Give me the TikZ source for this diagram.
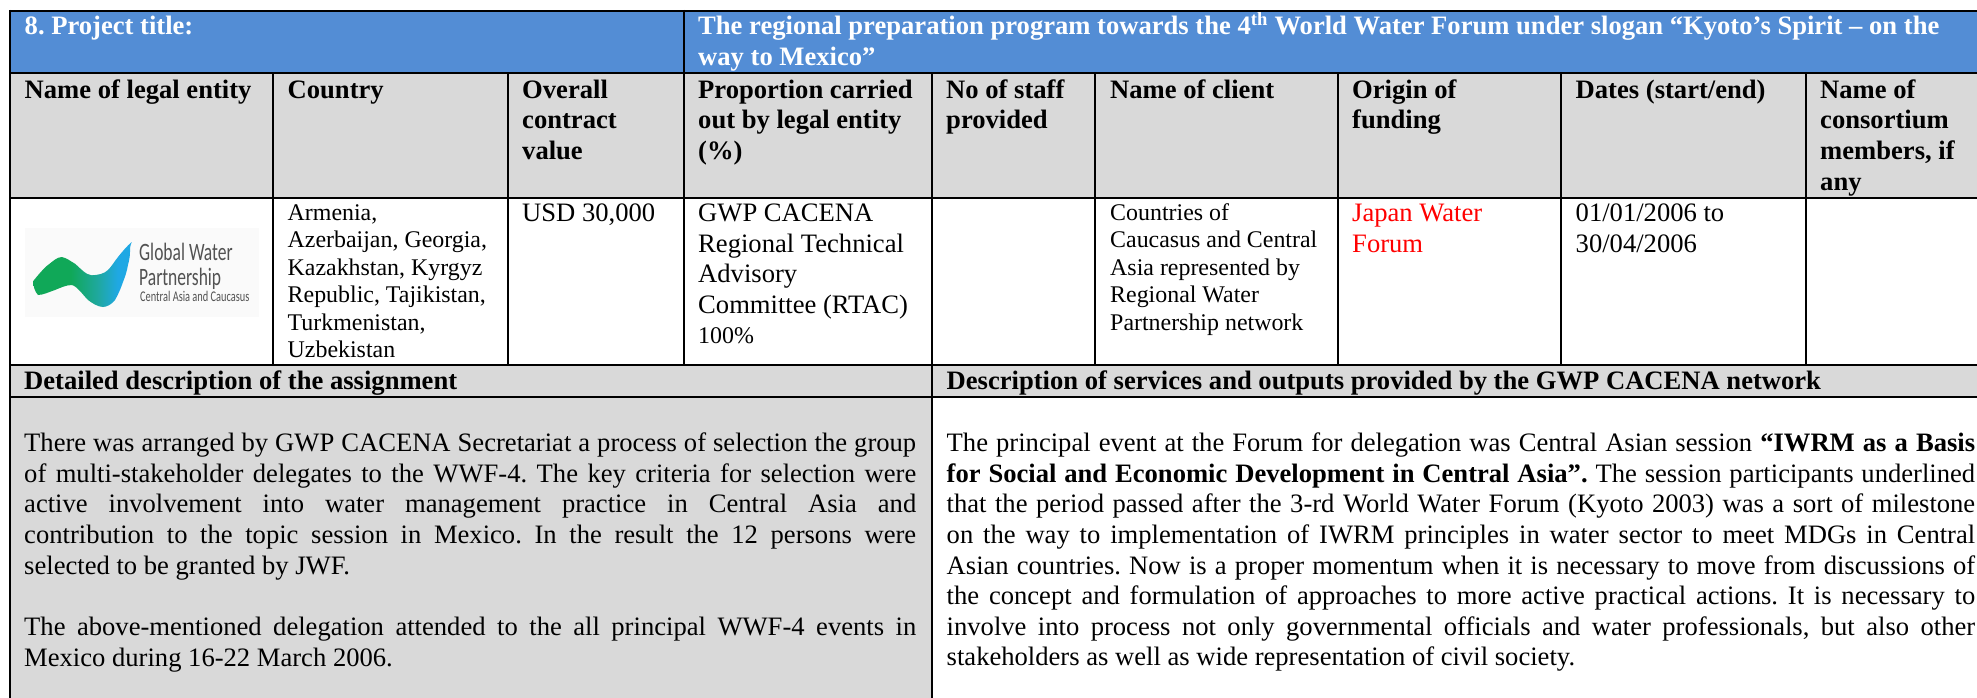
\documentclass[tikz,border=0pt]{standalone}
\usepackage{fontspec}
\setmainfont{Liberation Serif}
\newfontfamily\logofont[FakeStretch=0.7]{Carlito}
\usetikzlibrary{calc}
\definecolor{hdrblue}{HTML}{538DD5}
\definecolor{cellgrey}{HTML}{D9D9D9}
\definecolor{logogreen}{HTML}{10A858}
\definecolor{logoteal}{HTML}{1FA8A0}
\definecolor{logoblue}{HTML}{1FA8E4}
\pgfdeclarehorizontalshading{logoswoosh}{100bp}{
  color(0bp)=(logogreen); color(25bp)=(logogreen); color(44bp)=(logogreen);
  color(58bp)=(logoteal); color(68bp)=(logoblue); color(100bp)=(logoblue)}
\newcommand{\bigf}{\frenchspacing\fontsize{26.6}{30.6}\selectfont}
\newcommand{\smf}{\frenchspacing\fontsize{23.9}{27.5}\selectfont}
\newcommand{\mlines}[1]{\begin{tabular}[t]{@{}l@{}}#1\end{tabular}}
\newcommand{\jpara}[2]{\parbox[t]{#1}{\frenchspacing #2}}
\tikzset{
  txt/.style={inner sep=0pt,anchor=base west},
  big/.style={txt,font=\bigf},
  bigb/.style={txt,font=\bigf\bfseries},
  sml/.style={txt,font=\smf},
  grid/.style={line width=2pt,black},
  logot/.style={inner sep=0pt,anchor=base west,text=black!68}
}
\begin{document}
\begin{tikzpicture}[x=1pt,y=-1pt]
\useasboundingbox (0,0) rectangle (1977,698);
% fills
\fill[hdrblue] (10,11) rectangle (1977,73.3);
\fill[cellgrey] (10,73.3) rectangle (1977,197.7);
\fill[cellgrey] (10,365) rectangle (1977,396.7);
\fill[cellgrey] (10,396.7) rectangle (932,698);
% logo
\fill[black!2] (24.5,228) rectangle (259,317);
\shade[shading=logoswoosh]
 (33.3,281) .. controls (38,275) and (45,267) .. (48,265)
 .. controls (52,262) and (57,257) .. (61.7,257)
 .. controls (67,258) and (70,261) .. (75,263.7)
 .. controls (80,268) and (86,275) .. (91.7,275.3)
 .. controls (98,275) and (104,274) .. (108,270)
 .. controls (112,266) and (114,262) .. (118,257)
 .. controls (122,252) and (127,246) .. (131.7,242)
 .. controls (130,246) and (130,249) .. (130,252)
 .. controls (130,257) and (129,261) .. (128,265)
 .. controls (127,271) and (125,277) .. (123,282)
 .. controls (121,288) and (118,295) .. (115,300)
 .. controls (112,304) and (107,307) .. (103,307)
 .. controls (98,307) and (92,303) .. (88,300)
 .. controls (83,295) and (77,286) .. (71.7,285)
 .. controls (66,285) and (60,288) .. (55,290)
 .. controls (49,292) and (43,295) .. (38,295)
 .. controls (35,292) and (33,286) .. (33.3,281) -- cycle;
\node[logot,font=\logofont\fontsize{25}{25}\selectfont] (lg1) at (139,260.7) {Global Water};
\node[logot,font=\logofont\fontsize{25}{25}\selectfont] (lg2) at (139,285) {Partnership};
\node[logot,font=\logofont\fontsize{14.8}{15}\selectfont] (lg3) at (140,301.7) {Central Asia and Caucasus};
% grid
\draw[grid] (9,11) -- (1977,11);
\draw[grid] (9,73.3) -- (1977,73.3);
\draw[grid] (9,197.7) -- (1977,197.7);
\draw[grid] (9,365) -- (1977,365);
\draw[grid] (9,396.7) -- (1977,396.7);
\draw[grid] (10,10) -- (10,698);
\draw[grid] (684,10) -- (684,365);
\draw[grid] (932,365) -- (932,698);
\foreach \x in {273,508,932,1095,1338,1561,1806} \draw[grid] (\x,73.3) -- (\x,365);
% title row
\node[bigb,text=white] (t1) at (24.5,35) {8. Project title:};
\node[bigb,text=white] (t2) at (698,35) {The regional preparation program towards the 4\textsuperscript{th} World Water Forum under slogan “Kyoto’s Spirit – on the};
\node[bigb,text=white] (t3) at (698,66) {way to Mexico”};
% header row
\node[bigb] (h1) at (24.5,98.3) {Name of legal entity};
\node[bigb] (h2) at (287.5,98.3) {Country};
\node[bigb] (h3) at (522,98.3) {\mlines{Overall\\contract\\value}};
\node[bigb] (h4) at (698,98.3) {\mlines{Proportion carried\\out by legal entity\\(\%)}};
\node[bigb] (h5) at (946,98.3) {\mlines{No of staff\\provided}};
\node[bigb] (h6) at (1110,98.3) {Name of client};
\node[bigb] (h7) at (1352,98.3) {\mlines{Origin of\\funding}};
\node[bigb] (h8) at (1575.5,98.3) {Dates (start/end)};
\node[bigb] (h9) at (1820,98.3) {\mlines{Name of\\consortium\\members, if\\any}};
% data row
\node[sml] (d2) at (287.5,220) {\mlines{Armenia,\\Azerbaijan, Georgia,\\Kazakhstan, Kyrgyz\\Republic, Tajikistan,\\Turkmenistan,\\Uzbekistan}};
\node[big] (d3) at (522,221.7) {USD 30,000};
\node[big] (d4) at (698,221.7) {\mlines{GWP CACENA\\Regional Technical\\Advisory\\Committee (RTAC)}};
\node[sml] (d4b) at (698,343.3) {100\%};
\node[sml] (d6) at (1110,220) {\mlines{Countries of\\Caucasus and Central\\Asia represented by\\Regional Water\\Partnership network}};
\node[big,text=red] (d7) at (1352,221.7) {\mlines{Japan Water\\Forum}};
\node[big] (d8) at (1575.5,221.7) {\mlines{01/01/2006 to\\30/04/2006}};
% section heads
\node[bigb] (s1) at (24,389.3) {Detailed description of the assignment};
\node[bigb] (s2) at (946.5,389.3) {Description of services and outputs provided by the GWP CACENA network};
% paragraphs
\node[big] (p1) at (24,451.7) {\jpara{892pt}{There was arranged by GWP CACENA Secretariat a process of selection the group\linebreak of multi-stakeholder delegates to the WWF-4. The key criteria for selection were\linebreak active involvement into water management practice in Central Asia and\linebreak contribution to the topic session in Mexico. In the result the 12 persons were\linebreak selected to be granted by JWF.}};
\node[big] (p2) at (24,635.7) {\jpara{892pt}{The above-mentioned delegation attended to the all principal WWF-4 events in\linebreak Mexico during 16-22 March 2006.}};
\node[big] (p3) at (946.5,451.7) {\jpara{1028.5pt}{The principal event at the Forum for delegation was Central Asian session \textbf{“IWRM as a Basis\linebreak for Social and Economic Development in Central Asia”.} The session participants underlined\linebreak that the period passed after the 3-rd World Water Forum (Kyoto 2003) was a sort of milestone\linebreak on the way to implementation of IWRM principles in water sector to meet MDGs in Central\linebreak Asian countries. Now is a proper momentum when it is necessary to move from discussions of\linebreak the concept and formulation of approaches to more active practical actions. It is necessary to\linebreak involve into process not only governmental officials and water professionals, but also other\linebreak stakeholders as well as wide representation of civil society.}};
\end{tikzpicture}
\end{document}
